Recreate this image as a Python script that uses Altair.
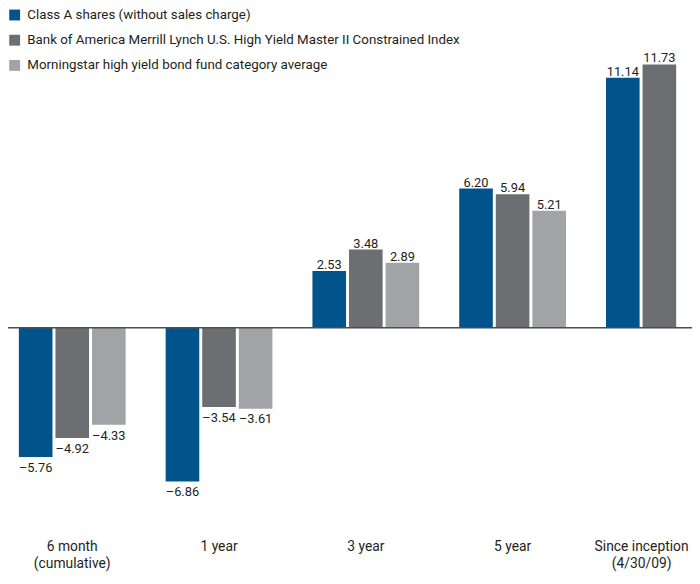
import altair as alt
import pandas as pd

categories = ["6 month\n(cumulative)", "1 year", "3 year", "5 year", "Since inception\n(4/30/09)"]
series = [
    "Class A shares (without sales charge)",
    "Bank of America Merrill Lynch U.S. High Yield Master II Constrained Index",
    "Morningstar high yield bond fund category average",
]
class_a = [-5.76, -6.86, 2.53, 6.20, 11.14]
bofa = [-4.92, -3.54, 3.48, 5.94, 11.73]
mstar = [-4.33, -3.61, 2.89, 5.21, None]
colors = ["#00548b", "#6d6e71", "#a1a3a6"]

rows = []
for s, vals in zip(series, [class_a, bofa, mstar]):
    for c, v in zip(categories, vals):
        if v is None:
            continue
        rows.append({"cat": c, "series": s, "value": v,
                     "label": f"{v:.2f}".replace("-", "\u2013")})
df = pd.DataFrame(rows)

FONT = "Roboto, Open Sans, sans-serif"

xscale = alt.Scale(domain=categories, range=[-9.25, 733.25], paddingInner=0, paddingOuter=0)
yscale = alt.Scale(domain=[-8.5, 14.1], nice=False, zero=False)

x = alt.X("cat:N", sort=categories, scale=xscale, title=None,
          axis=alt.Axis(labelAngle=0, domain=False, ticks=False, grid=False,
                        labelFont=FONT, labelFontSize=14, labelColor="#231f20",
                        labelPadding=22, labelLineHeight=17,
                        labelExpr="split(datum.label, '\\n')",
                        labelOffset={"condition": {"test": "indexof(datum.label, 'Since') >= 0", "value": -18}, "value": 0}))
xo = alt.XOffset("series:N", sort=series, scale=alt.Scale(paddingInner=0.081, paddingOuter=0.547))
y = alt.Y("value:Q", scale=yscale, axis=None)

base = alt.Chart(df)

bars = base.mark_bar().encode(
    x=x, xOffset=xo, y=y,
    color=alt.Color("series:N", sort=series,
                    scale=alt.Scale(domain=series, range=colors),
                    legend=alt.Legend(title=None, orient="none", legendX=0, legendY=-3,
                                      symbolType="square", symbolSize=121,
                                      symbolStrokeWidth=0, labelFont=FONT,
                                      labelFontSize=13.5, labelColor="#231f20",
                                      rowPadding=10.5, labelLimit=700, labelOffset=6,
                                      padding=0)),
)

pos_text = base.transform_filter("datum.value >= 0").mark_text(
    baseline="alphabetic", dy=-2, font=FONT, fontSize=13, color="#231f20"
).encode(x=x, xOffset=xo, y=y, text="label:N")

neg_text = base.transform_filter("datum.value < 0").mark_text(
    baseline="alphabetic", dy=15, font=FONT, fontSize=13, color="#231f20"
).encode(x=x, xOffset=xo, y=y, text="label:N")

zero = alt.Chart(pd.DataFrame({"z": [0]})).mark_rule(color="#4d4d4f", strokeWidth=1.5).encode(
    y=alt.Y("z:Q", scale=yscale, axis=None)
)

chart = alt.layer(bars, pos_text, neg_text, zero).properties(
    width=692, height=513,
    padding={"left": 0, "top": 0, "right": 0, "bottom": 55},
    autosize=alt.AutoSizeParams(type="none"),
).configure(font=FONT).configure_view(stroke=None)

chart.save("out.html", embed_options={"renderer": "svg", "actions": False})
